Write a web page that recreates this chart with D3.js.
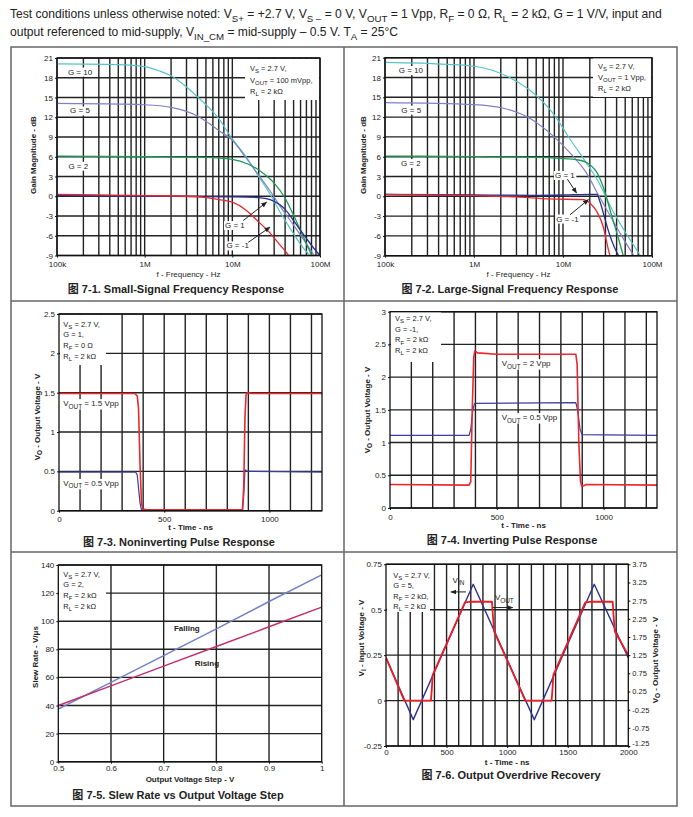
<!DOCTYPE html>
<html>
<head>
<meta charset="utf-8">
<script src="https://cdn.jsdelivr.net/npm/d3@7"></script>
<style>
body { margin: 0; background: #fff; }
svg text { font-family: "Liberation Sans", Arial, "Noto Sans CJK SC", sans-serif; fill: #222; }
</style>
</head>
<body>
<svg id="chart" width="693" height="817"></svg>
<script>
// ---- header text
var headLine1 = "Test conditions unless otherwise noted: V_{S+} = +2.7 V, V_{S –} = 0 V, V_{OUT} = 1 Vpp, R_{F} = 0 Ω, R_{L} = 2 kΩ, G = 1 V/V, input and";
var headLine2 = "output referenced to mid-supply, V_{IN_CM} = mid-supply – 0.5 V. T_{A} = 25°C";

// ---- fig 7-1 / 7-2 frequency response, [Hz, dB]
var freqTicks = [1e5, 1e6, 1e7, 1e8];
var freqLabels = ["100k", "1M", "10M", "100M"];
var gainTicks = [-9, -6, -3, 0, 3, 6, 9, 12, 15, 18, 21];

var ssG10 = [[1e5,20.1],[5e5,20.0],[1e6,19.7],[1.5e6,19.0],[2e6,18.3],[3e6,16.6],[4e6,15.1],[5e6,13.9],[7e6,11.8],[1e7,8.7],[1.4e7,6.2],[2e7,3.0],[2.7e7,0.3],[3.5e7,-2.4],[5e7,-5.7],[6.5e7,-7.9],[8e7,-9.2]];
var ssG5 = [[1e5,14.1],[5e5,14.0],[1e6,13.9],[2e6,13.5],[3e6,12.9],[4e6,12.2],[5e6,11.4],[7e6,10.0],[1e7,8.5],[1.4e7,6.0],[2e7,3.2],[2.7e7,0.8],[3.5e7,-1.5],[5e7,-4.4],[6.5e7,-6.6],[8.8e7,-9.2]];
var ssG2 = [[1e5,6.1],[1e6,6.0],[5e6,5.9],[1e7,5.6],[1.5e7,4.9],[2e7,4.0],[2.5e7,3.0],[3e7,2.0],[4e7,-0.3],[5e7,-2.9],[6e7,-5.2],[7e7,-7.2],[8.2e7,-9.2]];
var ssG1 = [[1e5,0.1],[1e6,0.0],[1e7,-0.1],[2e7,-0.2],[2.7e7,-0.5],[3.5e7,-1.3],[4e7,-2.0],[5e7,-3.7],[6e7,-5.2],[7e7,-6.4],[8.5e7,-7.9],[1e8,-9.0]];
var ssGm1 = [[1e5,0.3],[3e5,0.2],[1e6,0.1],[3e6,0.0],[5e6,-0.2],[7e6,-0.5],[1e7,-0.9],[1.4e7,-2.0],[2e7,-3.9],[2.7e7,-5.6],[3.3e7,-7.0],[4e7,-8.3],[4.5e7,-9.2]];

var lsG10 = [[1e5,20.3],[5e5,20.0],[1e6,19.7],[1.6e6,19.1],[2.6e6,17.9],[4.5e6,15.8],[7.5e6,12.8],[1.25e7,8.3],[1.8e7,5.2],[2.5e7,2.2],[3.5e7,-1.8],[5e7,-5.4],[7.6e7,-9.2]];
var lsG5 = [[1e5,14.2],[1e6,13.9],[2.2e6,13.3],[4.5e6,11.6],[7.5e6,9.3],[1.25e7,6.3],[1.8e7,3.7],[2.5e7,0.2],[3.5e7,-3.3],[5e7,-6.9],[6.4e7,-9.2]];
var lsG2 = [[1e5,6.1],[1e6,6.0],[5e6,5.9],[9e6,5.75],[1.5e7,5.5],[1.9e7,5.0],[2.5e7,3.2],[2.95e7,0.7],[3.5e7,-2.8],[4.2e7,-6.4],[4.8e7,-9.2]];
var lsG1 = [[1e5,0.3],[1e6,0.2],[5e6,0.15],[1e7,0.2],[2e7,0.3],[2.4e7,0.3],[2.6e7,-0.8],[2.9e7,-3.0],[3.3e7,-5.6],[3.8e7,-7.8],[4.3e7,-9.2]];
var lsGm1 = [[1e5,0.3],[1e6,0.1],[3e6,-0.1],[7e6,-0.4],[1.7e7,-0.5],[2e7,-1.0],[2.4e7,-2.3],[2.86e7,-4.8],[3.2e7,-7.8],[3.4e7,-9.2]];

// ---- fig 7-3 / 7-4 pulse response, [ns, V]
var pulseTimeTicks = [0, 500, 1000];
var pulseTimeGrid = [100, 200, 300, 400, 500, 600, 700, 800, 900, 1000, 1100, 1200];
var nonInvRed = [[0,1.49],[360,1.49],[372,1.46],[378,1.3],[385,0.6],[392,0.1],[398,0.02],[420,0.01],[872,0.01],[878,0.3],[884,1.2],[889,1.47],[895,1.5],[920,1.49],[1250,1.49]];
var nonInvBlue = [[0,0.49],[365,0.49],[372,0.45],[385,0.1],[392,0.01],[872,0.0],[878,0.2],[884,0.52],[895,0.5],[1250,0.49]];
var invRed = [[0,0.36],[370,0.35],[378,0.4],[385,1.5],[392,2.3],[397,2.4],[410,2.37],[500,2.35],[870,2.35],[876,2.2],[884,1.0],[892,0.4],[898,0.33],[920,0.36],[1250,0.35]];
var invBlue = [[0,1.11],[370,1.11],[378,1.2],[388,1.5],[396,1.6],[870,1.61],[878,1.5],[890,1.2],[900,1.12],[1250,1.11]];

// ---- fig 7-5 slew rate
var slewStep = [0.5, 0.6, 0.7, 0.8, 0.9, 1.0];
var slewFalling = [37.5, 56.5, 75.5, 94.5, 114, 133];
var slewRising = [40, 54, 68, 82, 96, 110];

// ---- fig 7-6 overdrive recovery
var odTimeTicks = [0, 500, 1000, 1500, 2000];
var odVin = [[0,0.235],[225,-0.105],[720,0.64],[1224,-0.105],[1719,0.64],[2000,0.235]];           // left axis
var odVout = [[0,1.18],[151,0.0],[371,0.0],[378,0.3],[385,0.7],[652,2.7],[700,2.72],[875,2.72],[883,2.3],[893,1.9],
              [1150,0.0],[1367,0.0],[1374,0.3],[1381,0.7],[1645,2.7],[1700,2.72],[1871,2.72],[1879,2.3],[1889,1.9],[2000,1.25]]; // right axis
var odLeftTicks = [-0.25, 0, 0.25, 0.5, 0.75];
var odRightTicks = [-1.25, -0.75, -0.25, 0.25, 0.75, 1.25, 1.75, 2.25, 2.75, 3.25, 3.75];

var svg = d3.select("#chart");
var FS = 7.5, TFS = 8;

svg.append("defs").append("marker")
    .attr("id", "arrow")
    .attr("viewBox", "0 0 10 10")
    .attr("refX", 9).attr("refY", 5)
    .attr("markerWidth", 6).attr("markerHeight", 6)
    .attr("orient", "auto-start-reverse")
    .append("path").attr("d", "M0,1 L10,5 L0,9 z").attr("fill", "#222");

// text with _{sub} parts
function rich(t, str, size) {
    var parts = str.split(/(_\{[^}]*\})/), down = false;
    parts.forEach(function (p) {
        if (!p) return;
        var isSub = p.indexOf("_{") === 0;
        var ts = t.append("tspan").text(isSub ? p.slice(2, -1) : p);
        if (isSub) {
            ts.attr("dy", size * 0.3).style("font-size", (size * 0.8) + "px");
            down = true;
        } else if (down) {
            ts.attr("dy", -size * 0.3);
            down = false;
        }
    });
    return t;
}

function bgBehind(g, t, pad) {
    var b = t.node().getBBox();
    g.insert("rect", function () { return t.node(); })
        .attr("x", b.x - pad).attr("y", b.y - pad + 1)
        .attr("width", b.width + 2 * pad).attr("height", b.height + 2 * pad - 2)
        .attr("fill", "#fff");
}

// header
[headLine1, headLine2].forEach(function (s, i) {
    rich(svg.append("text").attr("x", 10).attr("y", 18 + i * 18).style("font-size", "12.1px"), s, 12.1);
});

// outer frame
svg.append("rect").attr("x", 11).attr("y", 47).attr("width", 666).attr("height", 759)
    .attr("fill", "none").attr("stroke", "#666").attr("stroke-width", 1.5);
svg.append("line").attr("x1", 344).attr("x2", 344).attr("y1", 47).attr("y2", 806).attr("stroke", "#666").attr("stroke-width", 1.5);
[301, 552].forEach(function (y) {
    svg.append("line").attr("x1", 11).attr("x2", 677).attr("y1", y).attr("y2", y).attr("stroke", "#666").attr("stroke-width", 1.5);
});

var clipN = 0;
function panel(p) {
    var g = svg.append("g");
    var x = p.x, y = p.y;
    var x0 = x.range()[0], x1 = x.range()[1], yB = y.range()[0], yT = y.range()[1];
    var cid = "clip" + (clipN++);
    g.append("clipPath").attr("id", cid).append("rect")
        .attr("x", x0).attr("y", yT).attr("width", x1 - x0).attr("height", yB - yT);

    // grid
    g.selectAll(null).data(p.xGrid).enter().append("line")
        .attr("x1", function (d) { return x(d); }).attr("x2", function (d) { return x(d); })
        .attr("y1", yT).attr("y2", yB)
        .attr("stroke", "#222").attr("stroke-width", 1.4);
    g.selectAll(null).data(p.yGrid).enter().append("line")
        .attr("x1", x0).attr("x2", x1)
        .attr("y1", function (d) { return y(d); }).attr("y2", function (d) { return y(d); })
        .attr("stroke", "#222").attr("stroke-width", 1.4);

    // notes box
    if (p.notes) {
        var nb = p.noteBox;
        g.append("rect").attr("x", nb[0]).attr("y", nb[1]).attr("width", nb[2] - nb[0]).attr("height", nb[3] - nb[1]).attr("fill", "#fff");
        p.notes.forEach(function (s, i) {
            rich(g.append("text").attr("x", p.noteX).attr("y", p.noteY + i * p.noteDy).style("font-size", FS + "px"), s, FS);
        });
    }

    // series
    var sg = g.append("g").attr("clip-path", "url(#" + cid + ")");
    p.series.forEach(function (s) {
        var ys = s.y || y;
        var line = d3.line()
            .x(function (d) { return x(d[0]); })
            .y(function (d) { return ys(d[1]); })
            .curve(s.curve || d3.curveLinear);
        sg.append("path").datum(s.data).attr("d", line)
            .attr("fill", "none").attr("stroke", s.color).attr("stroke-width", s.width)
            .attr("stroke-linejoin", "round");
    });

    // labels
    (p.labels || []).forEach(function (l) {
        var t = g.append("text").attr("x", x(l.at[0])).attr("y", y(l.at[1]) + 2.8)
            .attr("text-anchor", l.anchor || "middle")
            .style("font-size", TFS + "px").style("font-weight", l.bold ? "bold" : "normal");
        rich(t, l.text, TFS);
        if (!l.nobg) bgBehind(g, t, 1);
    });
    (p.arrows || []).forEach(function (a) {
        g.append("line")
            .attr("x1", x(a[0][0])).attr("y1", y(a[0][1]))
            .attr("x2", x(a[1][0])).attr("y2", y(a[1][1]))
            .attr("stroke", "#222").attr("stroke-width", 1)
            .attr("marker-end", "url(#arrow)");
    });

    // frame
    g.append("rect").attr("x", x0).attr("y", yT).attr("width", x1 - x0).attr("height", yB - yT)
        .attr("fill", "none").attr("stroke", "#111").attr("stroke-width", 1.3);

    // axes
    var ax = g.append("g").attr("transform", "translate(0," + yB + ")")
        .call(d3.axisBottom(x).tickValues(p.xTicks).tickSize(2).tickPadding(p.xPad || 4)
            .tickFormat(function (d, i) { return p.xLabels[i]; }));
    var ay = g.append("g").attr("transform", "translate(" + x0 + ",0)")
        .call(d3.axisLeft(y).tickValues(p.yTicks).tickSize(2).tickPadding(2)
            .tickFormat(function (d, i) { return p.yLabels[i]; }));
    [ax, ay].forEach(function (a) {
        a.select(".domain").remove();
        a.selectAll("text").style("font-size", TFS + "px").style("font-family", null).attr("fill", "#222");
        a.selectAll("line").attr("stroke", "#111");
    });
    if (p.y2) {
        var ay2 = g.append("g").attr("transform", "translate(" + x1 + ",0)")
            .call(d3.axisRight(p.y2).tickValues(p.y2Ticks).tickSize(2).tickPadding(2)
                .tickFormat(function (d, i) { return p.y2Labels[i]; }));
        ay2.select(".domain").remove();
        ay2.selectAll("text").style("font-size", FS + "px").style("font-family", null).attr("fill", "#222");
        // bottom right label sits a little higher, clear of the last x label
        ay2.selectAll("text").filter(function (d, i) { return i === 0; }).attr("dy", "-0.1em");
    }

    // titles
    g.append("text").attr("x", (x0 + x1) / 2).attr("y", yB + p.xTitleDy)
        .attr("text-anchor", "middle").style("font-size", TFS + "px")
        .style("font-weight", p.xTitleBold ? "bold" : "normal").text(p.xTitle);
    rich(g.append("text").attr("transform", "translate(" + p.yTitleX + "," + p.yTitleY + ") rotate(-90)")
        .attr("text-anchor", "middle").style("font-size", TFS + "px").style("font-weight", "bold"), p.yTitle, TFS);
    if (p.y2Title) {
        rich(g.append("text").attr("transform", "translate(" + p.y2TitleX + "," + p.y2TitleY + ") rotate(-90)")
            .attr("text-anchor", "middle").style("font-size", TFS + "px").style("font-weight", "bold"), p.y2Title, TFS);
    }
    g.append("text").attr("x", p.capX).attr("y", p.capY).attr("text-anchor", "middle")
        .style("font-size", "11px").style("font-weight", "bold").text(p.caption);
}

function seriesPairs(xs, ys) { return xs.map(function (v, i) { return [v, ys[i]]; }); }

var CYAN = "#55c4c6", SLATE = "#7d82c2", GREEN = "#1e9a55", NAVY = "#2b2f8e", RED = "#e8282e";
var gainLabels = gainTicks.map(String);

// Fig 7-1
var x1s = d3.scaleLog().domain([1e5, 1e8]).range([57, 320]);
var y1s = d3.scaleLinear().domain([-9, 21]).range([255.5, 58]);
panel({
    x: x1s, y: y1s, xGrid: x1s.ticks(), yGrid: gainTicks,
    xTicks: freqTicks, xLabels: freqLabels, yTicks: gainTicks, yLabels: gainLabels,
    notes: ["V_{S} = 2.7 V,", "V_{OUT} = 100 mVpp,", "R_{L} = 2 kΩ"], noteBox: [245, 59, 319, 100], noteX: 250, noteY: 71, noteDy: 11.5,
    series: [
        { data: ssG10, color: CYAN, width: 1.2, curve: d3.curveMonotoneX },
        { data: ssG5, color: SLATE, width: 1.2, curve: d3.curveMonotoneX },
        { data: ssG2, color: GREEN, width: 1.3, curve: d3.curveMonotoneX },
        { data: ssG1, color: NAVY, width: 1.3, curve: d3.curveMonotoneX },
        { data: ssGm1, color: RED, width: 1.3, curve: d3.curveMonotoneX }
    ],
    labels: [
        { text: "G = 10", at: [1.83e5, 18.9] }, { text: "G = 5", at: [1.83e5, 13.0] }, { text: "G = 2", at: [1.75e5, 4.6] },
        { text: "G = 1", at: [1.07e7, -4.4] }, { text: "G = -1", at: [1.15e7, -7.5] }
    ],
    arrows: [[[1.33e7, -3.7], [2.46e7, -0.9]], [[1.52e7, -7.0], [2.69e7, -4.7]]],
    xTitle: "f - Frequency - Hz", xTitleDy: 21, yTitle: "Gain Magnitude - dB", yTitleX: 36, yTitleY: 155,
    caption: "图 7-1. Small-Signal Frequency Response", capX: 176, capY: 293
});

// Fig 7-2
var x2s = d3.scaleLog().domain([1e5, 1e8]).range([385, 652]);
var y2s = d3.scaleLinear().domain([-9, 21]).range([255.7, 57.7]);
panel({
    x: x2s, y: y2s, xGrid: x2s.ticks(), yGrid: gainTicks,
    xTicks: freqTicks, xLabels: freqLabels, yTicks: gainTicks, yLabels: gainLabels,
    notes: ["V_{S} = 2.7 V,", "V_{OUT} = 1 Vpp,", "R_{L} = 2 kΩ"], noteBox: [593, 58, 651, 97], noteX: 598, noteY: 68.5, noteDy: 11.3,
    series: [
        { data: lsG10, color: CYAN, width: 1.2, curve: d3.curveMonotoneX },
        { data: lsG5, color: SLATE, width: 1.2, curve: d3.curveMonotoneX },
        { data: lsG2, color: GREEN, width: 1.3, curve: d3.curveMonotoneX },
        { data: lsG1, color: NAVY, width: 1.3, curve: d3.curveMonotoneX },
        { data: lsGm1, color: RED, width: 1.3, curve: d3.curveMonotoneX }
    ],
    labels: [
        { text: "G = 10", at: [1.95e5, 19.1] }, { text: "G = 5", at: [1.97e5, 13.1] }, { text: "G = 2", at: [1.95e5, 5.0] },
        { text: "G = 1", at: [1.05e7, 3.2] }, { text: "G = -1", at: [1.12e7, -3.4] }
    ],
    arrows: [[[1.12e7, 2.6], [1.42e7, 0.5]], [[1.2e7, -2.8], [1.93e7, -0.5]]],
    xTitle: "f - Frequency - Hz", xTitleDy: 21, yTitle: "Gain Magnitude - dB", yTitleX: 365.5, yTitleY: 155,
    caption: "图 7-2. Large-Signal Frequency Response", capX: 510, capY: 293
});

// Fig 7-3
var vTicks3 = [0, 0.5, 1, 1.5, 2, 2.5];
var x3s = d3.scaleLinear().domain([0, 1250]).range([59, 322]);
var y3s = d3.scaleLinear().domain([0, 2.5]).range([510.7, 314]);
panel({
    x: x3s, y: y3s, xGrid: pulseTimeGrid, yGrid: vTicks3,
    xTicks: pulseTimeTicks, xLabels: pulseTimeTicks.map(String), yTicks: vTicks3, yLabels: vTicks3.map(String),
    notes: ["V_{S} = 2.7 V,", "G = 1,", "R_{F} = 0 Ω", "R_{L} = 2 kΩ"], noteBox: [60, 315, 106, 365], noteX: 63.3, noteY: 326.5, noteDy: 10.7,
    series: [
        { data: nonInvBlue, color: "#3a3d9c", width: 1.2 },
        { data: nonInvRed, color: RED, width: 1.6 }
    ],
    labels: [
        { text: "V_{OUT} = 1.5 Vpp", at: [20, 1.365], anchor: "start" },
        { text: "V_{OUT} = 0.5 Vpp", at: [20, 0.35], anchor: "start" }
    ],
    xTitle: "t - Time - ns", xTitleBold: true, xTitleDy: 19.5, yTitle: "V_{O} - Output Voltage - V", yTitleX: 39.5, yTitleY: 417,
    caption: "图 7-3. Noninverting Pulse Response", capX: 179, capY: 546
});

// Fig 7-4
var vTicks4 = [0, 0.5, 1, 1.5, 2, 2.5, 3];
var x4s = d3.scaleLinear().domain([0, 1250]).range([390, 657]);
var y4s = d3.scaleLinear().domain([0, 3]).range([508, 311.7]);
panel({
    x: x4s, y: y4s, xGrid: pulseTimeGrid, yGrid: vTicks4,
    xTicks: pulseTimeTicks, xLabels: pulseTimeTicks.map(String), yTicks: vTicks4, yLabels: vTicks4.map(String),
    notes: ["V_{S} = 2.7 V,", "G = -1,", "R_{F} = 2 kΩ", "R_{L} = 2 kΩ"], noteBox: [391, 312, 441, 362], noteX: 395, noteY: 321, noteDy: 10.7,
    series: [
        { data: invBlue, color: "#3a3d9c", width: 1.2 },
        { data: invRed, color: RED, width: 1.6 }
    ],
    labels: [
        { text: "V_{OUT} = 2 Vpp", at: [523, 2.21], anchor: "start" },
        { text: "V_{OUT} = 0.5 Vpp", at: [523, 1.386], anchor: "start" }
    ],
    xTitle: "t - Time - ns", xTitleBold: true, xTitleDy: 20, yTitle: "V_{O} - Output Voltage - V", yTitleX: 369.5, yTitleY: 410,
    caption: "图 7-4. Inverting Pulse Response", capX: 512, capY: 544
});

// Fig 7-5
var srTicks = [0, 20, 40, 60, 80, 100, 120, 140];
var x5s = d3.scaleLinear().domain([0.5, 1]).range([58.3, 321.7]);
var y5s = d3.scaleLinear().domain([0, 140]).range([761.7, 565]);
panel({
    x: x5s, y: y5s, xGrid: [0.6, 0.7, 0.8, 0.9], yGrid: srTicks,
    xTicks: slewStep, xLabels: ["0.5", "0.6", "0.7", "0.8", "0.9", "1"], xPad: 2, yTicks: srTicks, yLabels: srTicks.map(String),
    notes: ["V_{S} = 2.7 V,", "G = 2,", "R_{F} = 2 kΩ", "R_{L} = 2 kΩ"], noteBox: [59, 566, 106, 612], noteX: 63.3, noteY: 576.5, noteDy: 10.8,
    series: [
        { data: seriesPairs(slewStep, slewFalling), color: "#7282c4", width: 1.5 },
        { data: seriesPairs(slewStep, slewRising), color: "#c2306c", width: 1.5 }
    ],
    labels: [
        { text: "Falling", at: [0.744, 95], bold: true, nobg: true },
        { text: "Rising", at: [0.782, 70], bold: true, nobg: true }
    ],
    xTitle: "Output Voltage Step - V", xTitleBold: true, xTitleDy: 20, yTitle: "Slew Rate - V/μs", yTitleX: 37.5, yTitleY: 657,
    caption: "图 7-5. Slew Rate vs Output Voltage Step", capX: 178, capY: 799
});

// Fig 7-6
var x6s = d3.scaleLinear().domain([0, 2000]).range([386, 628.3]);
var y6s = d3.scaleLinear().domain([-0.25, 0.75]).range([746, 564.3]);
var y6r = d3.scaleLinear().domain([-1.25, 3.75]).range([746, 564.3]);
panel({
    x: x6s, y: y6s, y2: y6r, xGrid: d3.range(100, 2000, 100), yGrid: odLeftTicks,
    xTicks: odTimeTicks, xLabels: odTimeTicks.map(String), xPad: 1, yTicks: odLeftTicks, yLabels: ["-0.25", "0", "0.25", "0.5", "0.75"],
    y2Ticks: odRightTicks, y2Labels: odRightTicks.map(String),
    notes: ["V_{S} = 2.7 V,", "G = 5,", "R_{F} = 2 kΩ,", "R_{L} = 2 kΩ"], noteBox: [387, 565, 430, 612], noteX: 393.3, noteY: 578, noteDy: 10.4,
    series: [
        { data: odVin, color: "#2e3192", width: 1.4 },
        { data: odVout, color: "#ed1c24", width: 1.8, y: y6r }
    ],
    labels: [
        { text: "V_{IN}", at: [598, 0.665], nobg: true },
        { text: "V_{OUT}", at: [977, 0.568], nobg: true }
    ],
    arrows: [[[660, 0.598], [536, 0.598]], [[881, 0.512], [1046, 0.512]]],
    xTitle: "t - Time - ns", xTitleBold: true, xTitleDy: 18.5, yTitle: "V_{I} - Input Voltage - V", yTitleX: 364, yTitleY: 638,
    y2Title: "V_{O} - Output Voltage - V", y2TitleX: 657.5, y2TitleY: 660,
    caption: "图 7-6. Output Overdrive Recovery", capX: 511, capY: 779
});
</script>
</body>
</html>
